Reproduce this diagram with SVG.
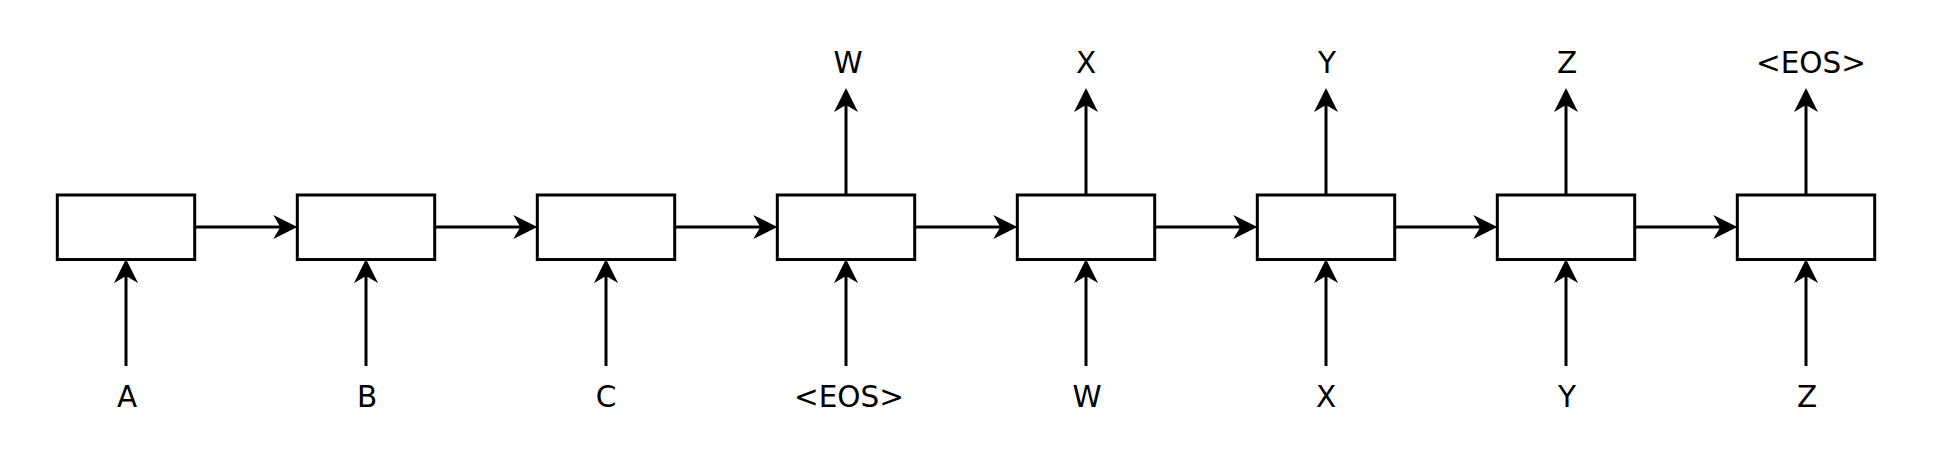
<svg xmlns="http://www.w3.org/2000/svg" width="1952" height="456" viewBox="0 0 1952 456">
<style>
.box{fill:#fff;stroke:#000;stroke-width:3}
.ln{fill:none;stroke:#000;stroke-width:3;marker-end:url(#ah)}
.lb{font-family:"DejaVu Sans",sans-serif;font-size:29.5px;fill:#000;text-anchor:middle}
</style>
<defs>
<marker id="ah" markerUnits="userSpaceOnUse" markerWidth="50" markerHeight="40" viewBox="-25 -20 50 40" refX="0" refY="0" orient="auto" overflow="visible">
<path d="M12,0 L-12,-12 L-5,0 L-12,12 Z" fill="#000"/>
</marker>
</defs>
<rect width="1952" height="456" fill="#fff"/>
<g id="connectors">
<path class="ln" d="M194.7,227H285.3"/>
<path class="ln" d="M434.7,227H525.3"/>
<path class="ln" d="M674.7,227H765.3"/>
<path class="ln" d="M914.7,227H1005.3"/>
<path class="ln" d="M1154.7,227H1245.3"/>
<path class="ln" d="M1394.7,227H1485.3"/>
<path class="ln" d="M1634.7,227H1725.3"/>
<path class="ln" d="M126,366V271"/>
<path class="ln" d="M366,366V271"/>
<path class="ln" d="M606,366V271"/>
<path class="ln" d="M846,366V271"/>
<path class="ln" d="M1086,366V271"/>
<path class="ln" d="M1326,366V271"/>
<path class="ln" d="M1566,366V271"/>
<path class="ln" d="M1806,366V271"/>
<path class="ln" d="M846,195V100"/>
<path class="ln" d="M1086,195V100"/>
<path class="ln" d="M1326,195V100"/>
<path class="ln" d="M1566,195V100"/>
<path class="ln" d="M1806,195V100"/>
</g>
<g id="node1"><rect class="box" x="57.3" y="195" width="137.4" height="64.5"/></g>
<g id="node2"><rect class="box" x="297.3" y="195" width="137.4" height="64.5"/></g>
<g id="node3"><rect class="box" x="537.3" y="195" width="137.4" height="64.5"/></g>
<g id="node4"><rect class="box" x="777.3" y="195" width="137.4" height="64.5"/></g>
<g id="node5"><rect class="box" x="1017.3" y="195" width="137.4" height="64.5"/></g>
<g id="node6"><rect class="box" x="1257.3" y="195" width="137.4" height="64.5"/></g>
<g id="node7"><rect class="box" x="1497.3" y="195" width="137.4" height="64.5"/></g>
<g id="node8"><rect class="box" x="1737.3" y="195" width="137.4" height="64.5"/></g>
<g id="labels">
<text class="lb" x="127" y="407">A</text>
<text class="lb" x="367" y="407">B</text>
<text class="lb" x="606" y="407">C</text>
<text class="lb" x="849" y="407">&lt;EOS&gt;</text>
<text class="lb" x="1087" y="407">W</text>
<text class="lb" x="1326" y="407">X</text>
<text class="lb" x="1567" y="407">Y</text>
<text class="lb" x="1807" y="407">Z</text>
<text class="lb" x="848" y="73">W</text>
<text class="lb" x="1086" y="73">X</text>
<text class="lb" x="1327" y="73">Y</text>
<text class="lb" x="1567" y="73">Z</text>
<text class="lb" x="1811" y="73">&lt;EOS&gt;</text>
</g>
</svg>
